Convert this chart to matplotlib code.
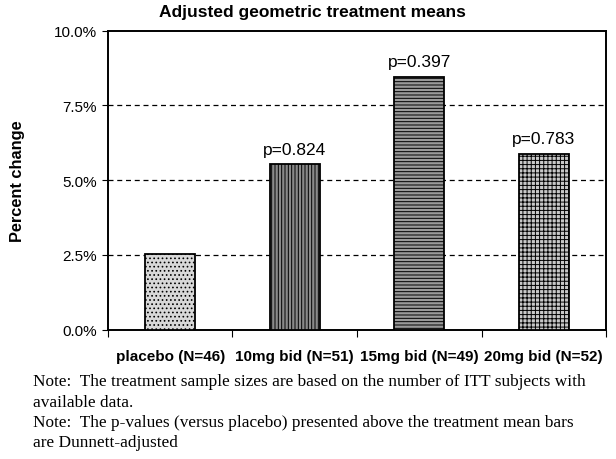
"""Adjusted geometric treatment means, percent change by dose group (scanned report figure)."""
import matplotlib
matplotlib.use("Agg")
import matplotlib.pyplot as plt
from matplotlib.ticker import FuncFormatter

groups = ["placebo (N=46)", "10mg bid (N=51)", "15mg bid (N=49)", "20mg bid (N=52)"]
means = [2.54, 5.54, 8.46, 5.88]
p_labels = ["", "p=0.824", "p=0.397", "p=0.783"]
y_ticks = [0.0, 2.5, 5.0, 7.5, 10.0]
notes = [
    "Note:  The treatment sample sizes are based on the number of ITT subjects with",
    "available data.",
    "Note:  The p-values (versus placebo) presented above the treatment mean bars",
    "are Dunnett-adjusted",
]

# pattern fills standing in for the print-style shading
HATCHES = ["....", "|||||", "-----", "++++"]
FACES = ["#d8d8d8", "#8a8a8a", "#9a9a9a", "#c8c8c8"]

plt.rcParams["font.family"] = ["Liberation Sans", "DejaVu Sans"]
plt.rcParams["hatch.linewidth"] = 0.7

fig = plt.figure(figsize=(6.16, 4.60), dpi=100)
ax = fig.add_axes([0.1753, 0.2815, 0.8085, 0.6495])

x = range(len(groups))
for i in x:
    ax.bar(i, means[i], width=0.4, color=FACES[i], edgecolor="black",
           hatch=HATCHES[i], linewidth=1.3, zorder=3)
    if p_labels[i]:
        ax.text(i, means[i] + 0.25, p_labels[i], ha="center", va="bottom",
                fontsize=12.5, zorder=4)

for yv in y_ticks[1:-1]:
    ax.axhline(yv, color="black", linestyle=(0, (4, 3)), linewidth=0.9, zorder=1)

ax.set_xlim(-0.5, len(groups) - 0.5)
ax.set_ylim(0, 10)
ax.set_yticks(y_ticks)
ax.yaxis.set_major_formatter(FuncFormatter(lambda v, _: f"{v:.1f}%"))
ax.set_xticks([i + 0.5 for i in range(-1, len(groups))], minor=False)
ax.set_xticklabels([])
ax.set_xticks(list(x), minor=True)
ax.set_xticklabels(groups, minor=True, fontweight="bold", fontsize=11)
ax.tick_params(axis="x", which="minor", length=0, pad=14)
ax.tick_params(axis="x", which="major", length=5, direction="out")
ax.tick_params(axis="y", length=4, direction="out", labelsize=11, pad=4)
for sp in ax.spines.values():
    sp.set_linewidth(1.4)

ax.set_ylabel("Percent change", fontweight="bold", fontsize=11.8, labelpad=21)
fig.text(0.507, 0.972, "Adjusted geometric treatment means", ha="center", va="center",
         fontweight="bold", fontsize=12.5)

note_y = [381.7, 402.7, 423, 442.7]
for line, yp in zip(notes, note_y):
    fig.text(33 / 616, 1 - yp / 460, line, ha="left", va="center",
             family=["Liberation Serif", "DejaVu Serif"], fontsize=12.4)

fig.savefig("out.png", dpi=100)
